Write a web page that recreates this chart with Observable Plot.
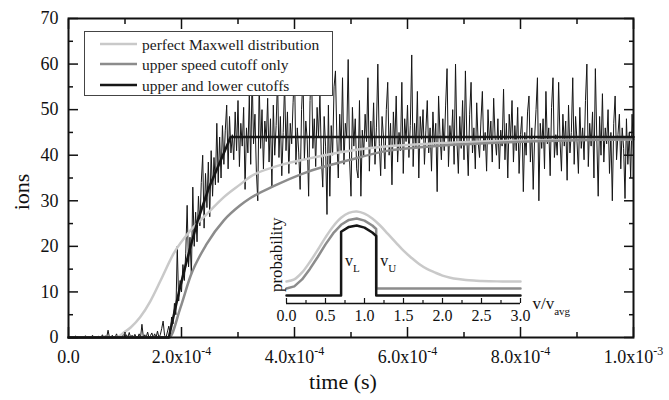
<!DOCTYPE html>
<html><head><meta charset="utf-8">
<script src="https://cdn.jsdelivr.net/npm/d3@7"></script>
<script src="https://cdn.jsdelivr.net/npm/@observablehq/plot@0.6"></script>
<style>
html,body{margin:0;padding:0;background:#fff;}
#wrap{position:relative;width:669px;height:400px;overflow:hidden;font-family:'Liberation Serif','Times New Roman',serif;}
#wrap > *{position:absolute;}
#wrap text{font-family:'Liberation Serif','Times New Roman',serif;}
</style></head><body><div id="wrap"></div>
<script>
// ---------- main chart data (time in units of 1e-4 s where noted) ----------
const noiseStep = 2.5e-6; // sampling interval of the simulated trace (s)
const noisyIons = [
0,0,0,0,0,0.3,0,0,0,0,
0,0,0.4,0,0,0,0,0.5,0,0,
0,0.3,0,0,0.6,0,0.4,0,1.6,0,
0,0.5,0,0,0.8,0,0.4,0,0,0.9,
0,0.6,0,1.1,0,0.5,0,0.7,0,0,
0.8,0,2.9,0,0.6,0,1.2,0,0.4,1.0,
0,0.8,0,1.4,0,0.6,2.0,3.6,
0.5,0,1.2,2.5,0.8,4.5,3.0,7.5,5.0,20.0,
8.0,12.5,10.0,16.0,12.5,18.5,29.0,15.5,22.0,13.5,
33.0,20.0,27.5,21.0,31.0,24.5,34.0,40.0,24.0,36.0,
28.5,38.5,26.5,41.0,31.0,39.5,33.5,47.0,34.0,44.0,
35.0,46.5,38.0,45.5,51.0,37.0,48.5,40.5,
44.5,39.0,49.5,41.0,52.0,37.5,47.0,42.0,50.5,32.5,
46.0,40.5,53.0,38.0,58.0,42.5,49.0,36.5,30.0,56.0,
41.5,50.0,37.0,47.5,43.0,52.5,38.5,48.0,33.0,51.0,
40.0,46.5,57.0,39.5,48.5,35.5,45.0,56.0,41.0,49.5,
36.0,47.0,42.5,51.5,59.0,38.0,46.0,40.5,32.5,50.0,
57.5,39.0,47.5,43.5,31.0,52.0,60.0,41.5,48.0,37.5,
50.5,44.0,53.5,39.5,33.0,48.5,42.0,27.0,51.0,31.0,
46.5,40.0,55.0,58.5,43.5,35.0,49.0,41.0,57.0,38.0,
47.0,44.0,61.0,39.0,31.0,50.5,42.0,48.0,37.0,35.0,
52.0,31.0,45.5,40.0,49.0,43.0,57.0,36.5,47.5,41.5,
51.5,38.0,46.0,60.0,42.5,35.5,48.5,44.0,37.0,50.0,
56.0,40.0,47.0,33.5,49.5,42.0,53.0,38.5,45.0,41.0,
56.0,36.0,48.0,43.0,51.0,39.5,46.5,62.0,37.5,47.0,
41.5,54.0,35.0,48.5,43.5,50.0,38.0,45.5,52.0,40.5,
46.0,36.5,49.5,42.0,47.0,32.0,53.0,44.5,39.0,48.0,
41.0,51.0,59.0,37.5,46.5,42.5,50.0,38.0,60.0,43.0,
36.0,48.5,41.5,52.0,39.0,58.5,44.0,35.5,49.0,56.0,
40.5,46.0,37.0,51.5,43.0,39.5,47.5,54.0,41.0,45.0,
36.5,50.0,42.5,47.5,38.5,52.5,44.0,40.0,48.0,37.0,
45.5,42.0,54.5,39.0,47.0,35.0,49.0,43.5,52.0,38.5,
46.5,41.0,50.5,36.0,44.5,48.5,32.0,45.0,40.0,49.5,
53.0,38.5,46.0,32.5,44.0,50.0,57.0,30.0,47.0,41.5,
48.0,37.0,54.0,42.5,46.0,35.5,50.5,57.0,39.5,44.5,
40.0,56.0,43.0,36.5,49.0,42.0,47.5,34.5,51.0,40.5,
45.0,57.0,38.0,48.5,43.0,36.0,50.5,41.5,46.0,39.0,
52.0,60.0,37.5,47.0,42.0,49.5,35.0,59.0,44.0,31.0,
48.5,40.0,53.5,38.5,46.0,42.5,50.0,36.0,45.0,30.0,
47.0,53.0,39.0,44.5,49.0,37.0,46.0,41.5,30.5,48.0,
38.0,45.0,35.0,49.0,41.0
];

const maxwellTime = [0, 0.8, 0.9, 0.96, 1.1, 1.27, 1.45, 1.63, 1.86, 2.16, 2.45, 2.75, 3.04, 3.22, 3.63, 4.22, 4.99, 5.61, 6.5, 7.91, 9.0, 10.0];
const maxwellIons = [0, 0, 0.3, 0.9, 2.2, 4.5, 8.0, 12.5, 18.4, 23.5, 27.1, 30.8, 33.6, 35.3, 37.4, 39.2, 41.0, 41.9, 42.6, 43.2, 43.4, 43.5];

const upperTime = [0, 1.78, 1.98, 2.16, 2.45, 2.75, 3.04, 3.22, 3.63, 4.22, 4.99, 5.61, 6.5, 7.91, 9.0, 10.0];
const upperIons = [0, 0, 6.5, 13.5, 20.6, 25.7, 29.0, 30.6, 33.2, 36.3, 39.0, 40.9, 42.0, 42.9, 43.3, 43.5];

const bothTime = [0, 1.775, 1.97, 2.12, 2.28, 2.48, 2.75, 2.87, 10.0];
const bothIons = [0, 0, 10.8, 18.1, 25.4, 32.7, 40.5, 44.0, 44.0];

const xMajor = [0, 2e-4, 4e-4, 6e-4, 8e-4, 1e-3];
const xMajorLabels = ["0.0", "2.0x10^-4", "4.0x10^-4", "6.0x10^-4", "8.0x10^-4", "1.0x10^-3"];
const xMinor = [1e-4, 3e-4, 5e-4, 7e-4, 9e-4];
const yMajor = [0, 10, 20, 30, 40, 50, 60, 70];
const yMinor = [5, 15, 25, 35, 45, 55, 65];

const legendLabels = ["perfect Maxwell distribution", "upper speed cutoff only", "upper and lower cutoffs"];

// ---------- inset data ----------
const speeds = [0,0.1,0.2,0.3,0.4,0.5,0.6,0.7,0.8,0.9,1.0,1.1,1.2,1.3,1.4,1.5,1.6,1.7,1.8,1.9,2.0,2.1,2.2,2.3,2.4,2.5,2.6,2.7,2.8,2.9,3.0];
const maxwellProb = [0,0.03,0.13,0.28,0.45,0.63,0.79,0.91,0.98,1.0,0.97,0.90,0.80,0.68,0.56,0.44,0.34,0.25,0.18,0.13,0.085,0.055,0.035,0.021,0.013,0.008,0.004,0.002,0.001,0,0];
const upperSpeeds = [0,0.1,0.2,0.3,0.4,0.5,0.6,0.7,0.8,0.9,1.0,1.1,1.15,1.15,3.0];
const upperProb = [0,0.03,0.13,0.28,0.45,0.63,0.79,0.91,0.98,1.0,0.97,0.90,0.85,0,0];
const bothSpeeds = [0,0.7,0.7,0.8,0.9,1.0,1.1,1.15,1.15,3.0];
const bothProb = [0,0,0.91,0.98,1.0,0.97,0.90,0.85,0,0];
const vL = 0.7, vU = 1.15;
const curveOffsets = {maxwell: 0.2, upper: 0.1, both: 0};
const insetMajor = [0, 0.5, 1.0, 1.5, 2.0, 2.5, 3.0];
const insetMinor = [0.25, 0.75, 1.25, 1.75, 2.25, 2.75];

// ---------- styling ----------
const serif = "'Liberation Serif','Times New Roman',serif";
const cLight = "#c9c9c9", cMid = "#8c8c8c", cDark = "#161616";

const toSeries = (ts, vs, k = 1e-4) => ts.map((t, i) => ({t: t * k, v: vs[i]}));
const noisy = noisyIons.map((v, i) => ({t: i * noiseStep, v}));
const maxwell = toSeries(maxwellTime, maxwellIons);
const upper = toSeries(upperTime, upperIons);
const both = toSeries(bothTime, bothIons);

const main = Plot.plot({
  width: 669, height: 400,
  marginTop: 18, marginRight: 36, marginBottom: 63, marginLeft: 68,
  style: {fontFamily: serif, fontSize: "18px", color: "#111", background: "transparent"},
  x: {domain: [0, 1e-3]},
  y: {domain: [0, 70]},
  marks: [
    Plot.line(noisy, {x: "t", y: "v", stroke: cDark, strokeWidth: 1}),
    Plot.line(maxwell, {x: "t", y: "v", stroke: cLight, strokeWidth: 2.5, curve: "monotone-x"}),
    Plot.line(upper, {x: "t", y: "v", stroke: cMid, strokeWidth: 2.5, curve: "monotone-x"}),
    Plot.line(both, {x: "t", y: "v", stroke: cDark, strokeWidth: 2.5}),
    Plot.frame({stroke: "#111", strokeWidth: 2}),
    Plot.axisX({anchor: "bottom", ticks: xMajor, tickSize: -10, tickFormat: () => "", label: null, strokeWidth: 1.5}),
    Plot.axisX({anchor: "bottom", ticks: xMinor, tickSize: -5, tickFormat: () => "", label: null, strokeWidth: 1.5}),
    Plot.axisX({anchor: "top", ticks: xMajor, tickSize: -10, tickFormat: () => "", label: null, strokeWidth: 1.5}),
    Plot.axisX({anchor: "top", ticks: xMinor, tickSize: -5, tickFormat: () => "", label: null, strokeWidth: 1.5}),
    Plot.axisY({anchor: "left", ticks: yMajor, tickSize: -10, tickFormat: () => "", label: null, strokeWidth: 1.5}),
    Plot.axisY({anchor: "left", ticks: yMinor, tickSize: -5, tickFormat: () => "", label: null, strokeWidth: 1.5}),
    Plot.axisY({anchor: "right", ticks: yMajor, tickSize: -10, tickFormat: () => "", label: null, strokeWidth: 1.5}),
    Plot.axisY({anchor: "right", ticks: yMinor, tickSize: -5, tickFormat: () => "", label: null, strokeWidth: 1.5}),
    Plot.axisX({anchor: "bottom", ticks: xMajor, tickSize: 0, tickPadding: 13, fontSize: 18, label: null,
      tickFormat: d => xMajorLabels[xMajor.indexOf(d)]}),
    Plot.axisY({anchor: "left", ticks: yMajor, tickSize: 0, tickPadding: 10, fontSize: 18, label: null}),
    Plot.text(["ions"], {text: d => d, frameAnchor: "left", textAnchor: "middle", dx: -47, dy: 14, rotate: -90, fontSize: 22}),
    Plot.text(["time (s)"], {text: d => d, frameAnchor: "bottom", textAnchor: "middle", dx: -8, dy: 51, fontSize: 22})
  ]
});

const insetData = {
  maxwell: speeds.map((v, i) => ({v, p: maxwellProb[i] + curveOffsets.maxwell})),
  upper: upperSpeeds.map((v, i) => ({v, p: upperProb[i] + curveOffsets.upper})),
  both: bothSpeeds.map((v, i) => ({v, p: bothProb[i] + curveOffsets.both}))
};
const insetY = [-0.114, 1.25];
const inset = Plot.plot({
  width: 340, height: 135,
  marginTop: 12.5, marginRight: 70, marginBottom: 27, marginLeft: 36,
  style: {fontFamily: serif, fontSize: "16px", color: "#111", background: "transparent", overflow: "visible"},
  x: {domain: [0, 3]},
  y: {domain: insetY, axis: null},
  marks: [
    Plot.line(insetData.maxwell, {x: "v", y: "p", stroke: cLight, strokeWidth: 2.5, curve: "catmull-rom"}),
    Plot.line(insetData.upper, {x: "v", y: "p", stroke: cMid, strokeWidth: 2.5}),
    Plot.line(insetData.both, {x: "v", y: "p", stroke: cDark, strokeWidth: 2.5}),
    Plot.ruleY([insetY[0]], {stroke: "#111", strokeWidth: 1.5}),
    Plot.axisX({anchor: "bottom", ticks: insetMajor, tickSize: -5, tickFormat: () => "", label: null, strokeWidth: 1.2}),
    Plot.axisX({anchor: "bottom", ticks: insetMinor, tickSize: -3, tickFormat: () => "", label: null, strokeWidth: 1.2}),
    Plot.axisX({anchor: "bottom", ticks: insetMajor, tickSize: 0, tickPadding: 6, fontSize: 16, label: null, tickFormat: d3.format(".1f")}),
    Plot.text(["probability"], {text: d => d, frameAnchor: "left", textAnchor: "middle", dx: -10, dy: -1, rotate: -90, fontSize: 17}),
    Plot.text(["v/v_avg"], {text: d => d, frameAnchor: "bottom-right", dx: 12, dy: 5, textAnchor: "start", fontSize: 17}),
    Plot.text([{v: vL, label: "v_L"}, {v: vU, label: "v_U"}], {x: "v", text: "label", frameAnchor: "bottom", dx: 4, dy: -38, textAnchor: "start", fontSize: 16})
  ]
});

function richText(svg) {
  d3.select(svg).selectAll("text").each(function() {
    const s = this.textContent;
    const m = s.match(/^(.*?)([\^_])(.+)$/);
    if (!m) return;
    const [, base, kind, rest] = m;
    this.textContent = "";
    const sel = d3.select(this);
    sel.append("tspan").text(base);
    if (kind === "^") sel.append("tspan").attr("dy", -8).attr("font-size", 12).text(rest);
    else sel.append("tspan").attr("dy", 6).attr("font-size", 11).text(rest);
  });
}
richText(main);
richText(inset);

const wrap = document.getElementById("wrap");
main.style.left = "0px"; main.style.top = "0px";
wrap.appendChild(main);
inset.style.left = "250px"; inset.style.top = "195px";
wrap.appendChild(inset);

// legend box
const legend = d3.create("svg").attr("width", 249).attr("height", 65)
  .style("left", "84px").style("top", "31px").style("position", "absolute");
legend.append("rect").attr("x", 0.5).attr("y", 0.5).attr("width", 248).attr("height", 64)
  .attr("fill", "#fff").attr("stroke", "#444").attr("stroke-width", 1);
const legendColors = [cLight, cMid, cDark];
const legendRows = [13, 33, 54];
legendLabels.forEach((lab, i) => {
  legend.append("line").attr("x1", 16).attr("x2", 53).attr("y1", legendRows[i]).attr("y2", legendRows[i])
    .attr("stroke", legendColors[i]).attr("stroke-width", 2.5);
  legend.append("text").attr("x", 58).attr("y", legendRows[i] + 5.5)
    .attr("font-family", serif).attr("font-size", 15.5).attr("fill", "#1a1a1a").text(lab);
});
wrap.appendChild(legend.node());
</script></body></html>
